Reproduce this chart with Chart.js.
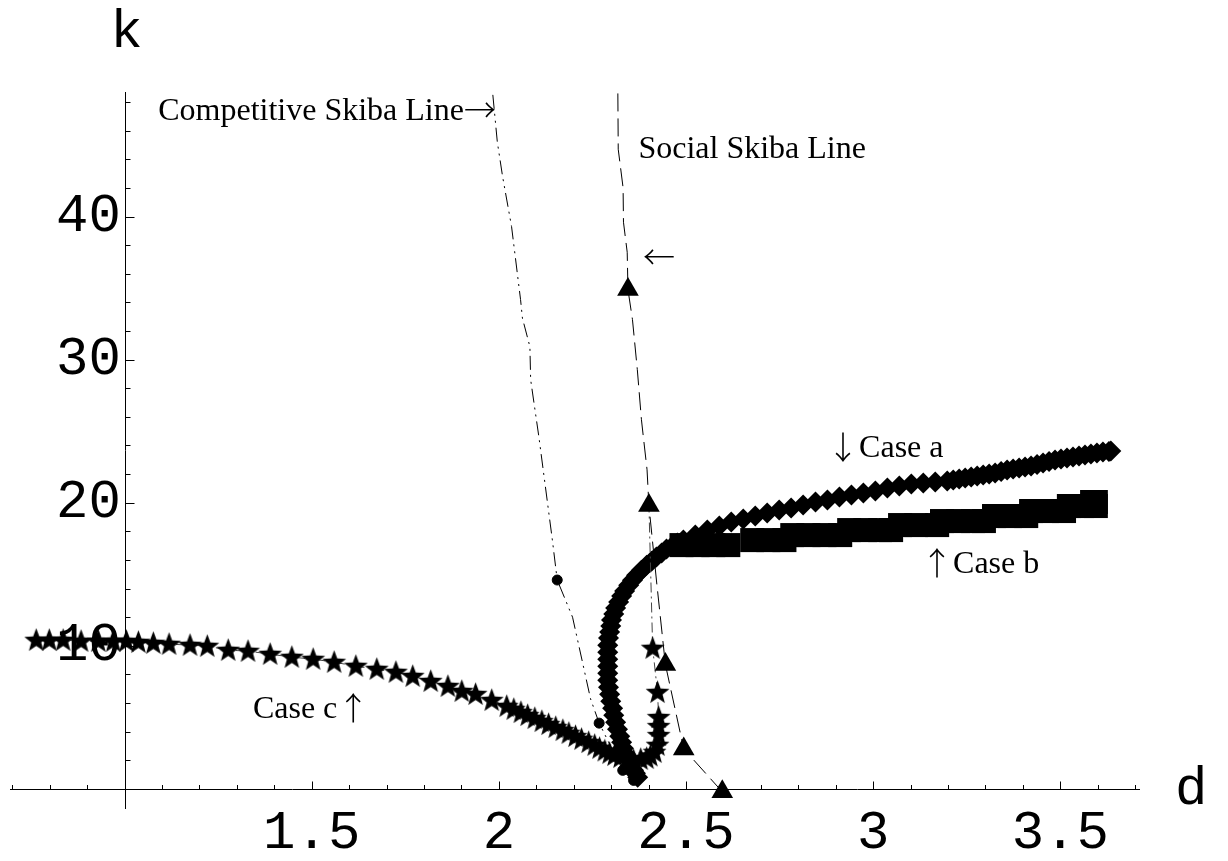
<!DOCTYPE html>
<html>
<head>
<meta charset="utf-8">
<style>
  html, body { margin: 0; padding: 0; background: #ffffff; }
  canvas { display: block; }
</style>
<script src="https://cdn.jsdelivr.net/npm/chart.js@4.4.1/dist/chart.umd.min.js"></script>
</head>
<body>
<canvas id="chart" width="1228" height="861"></canvas>
<script>
// Competitive Skiba line (dash-dot-dot) and its computed points
const compD = [1.984, 1.996, 2.010, 2.034, 2.058, 2.063, 2.083, 2.085, 2.107, 2.143, 2.156, 2.197, 2.245, 2.268, 2.331, 2.360];
const compK = [48.5, 45.2, 42.8, 39.3, 34.2, 32.9, 30.9, 28.6, 24.6, 17.4, 14.6, 12.0, 6.3, 4.6, 1.3, 0.6];
const compDotD = [2.156, 2.268, 2.331, 2.360];
const compDotK = [14.6, 4.6, 1.3, 0.6];

// Social Skiba line (dashed) and its triangle points
const socialD = [2.318, 2.319, 2.332, 2.333, 2.343, 2.345, 2.357, 2.370, 2.381, 2.396, 2.401, 2.421, 2.445, 2.494, 2.597];
const socialK = [48.6, 44.7, 42.0, 39.6, 37.5, 34.9, 32.8, 29.3, 25.8, 22.3, 19.8, 14.6, 8.7, 2.8, -0.2];
const socialTriD = [2.345, 2.401, 2.445, 2.494, 2.597];
const socialTriK = [34.9, 19.8, 8.7, 2.8, -0.2];

// Case a (diamonds): the bend near the bottom, then the rising branch
const caseAD = [2.371, 2.365, 2.360, 2.352, 2.347, 2.339, 2.333, 2.328, 2.323, 2.317,
                2.312, 2.307, 2.304, 2.299, 2.296, 2.293, 2.291, 2.291, 2.291, 2.291,
                2.291, 2.291, 2.293, 2.296, 2.299, 2.301, 2.307, 2.312, 2.320, 2.328,
                2.336, 2.347, 2.357, 2.368, 2.381, 2.395, 2.408, 2.421, 2.435, 2.448,
                2.464, 2.477,
                2.493, 2.525, 2.557, 2.589, 2.621, 2.653, 2.685, 2.717, 2.749, 2.781,
                2.813, 2.846, 2.878, 2.910, 2.942, 2.974, 3.006, 3.038, 3.070, 3.102,
                3.134, 3.166, 3.198, 3.230, 3.262, 3.294, 3.326, 3.358, 3.390, 3.422,
                3.454, 3.486, 3.518, 3.550, 3.582, 3.614, 3.635,
                3.214, 3.246, 3.278, 3.310, 3.342, 3.374, 3.406, 3.438, 3.470, 3.502,
                3.534, 3.566, 3.598, 3.630];
const caseAK = [0.82, 1.10, 1.31, 1.66, 2.01, 2.43, 2.85, 3.27, 3.69, 4.17,
                4.66, 5.15, 5.64, 6.13, 6.62, 7.11, 7.60, 8.09, 8.58, 9.07,
                9.56, 10.05, 10.54, 10.96, 11.38, 11.80, 12.22, 12.64, 13.06, 13.48,
                13.83, 14.24, 14.59, 14.94, 15.29, 15.64, 15.92, 16.20, 16.48, 16.76,
                16.97, 17.18,
                17.39, 17.74, 18.09, 18.37, 18.65, 18.86, 19.07, 19.28, 19.49, 19.63,
                19.84, 20.05, 20.19, 20.40, 20.54, 20.68, 20.82, 21.03, 21.17, 21.31,
                21.38, 21.45, 21.52, 21.66, 21.80, 21.94, 22.08, 22.29, 22.43, 22.57,
                22.78, 22.99, 23.13, 23.27, 23.41, 23.55, 23.62,
                21.59, 21.73, 21.87, 22.01, 22.18, 22.36, 22.50, 22.67, 22.88, 23.06,
                23.20, 23.34, 23.48, 23.58];

// Case b (squares)
const caseBD = [2.488, 2.531, 2.573, 2.613, 2.677, 2.720, 2.763, 2.784, 2.827, 2.870,
                2.912, 2.936, 2.979, 3.019, 3.048, 3.072, 3.115, 3.171, 3.184, 3.227,
                3.267, 3.296, 3.323, 3.366, 3.409, 3.422, 3.465, 3.510, 3.523, 3.558,
                3.595, 3.585, 3.595];
const caseBK = [17.04, 17.04, 17.04, 17.04, 17.39, 17.39, 17.39, 17.74, 17.74, 17.74,
                17.74, 18.09, 18.09, 18.09, 18.09, 18.44, 18.44, 18.44, 18.72, 18.72,
                18.72, 18.72, 19.07, 19.07, 19.07, 19.42, 19.42, 19.42, 19.77, 19.77,
                19.77, 20.05, 20.05];

// Case c (stars) and the thin line that continues from the last star
const caseCD = [0.764, 0.799, 0.836, 0.884, 0.930, 0.970, 1.005, 1.037, 1.077, 1.119,
                1.175, 1.221, 1.277, 1.330, 1.389, 1.447, 1.504, 1.560, 1.618, 1.674,
                1.725, 1.770, 1.818, 1.864, 1.901, 1.938, 1.981, 2.021, 2.040, 2.059,
                2.077, 2.096, 2.115, 2.133, 2.152, 2.171, 2.187, 2.205, 2.221, 2.240,
                2.256, 2.269, 2.283, 2.296, 2.309, 2.325, 2.344, 2.360, 2.379, 2.395,
                2.405, 2.416, 2.424, 2.427, 2.427, 2.427, 2.424, 2.411];
const caseCK = [10.40, 10.40, 10.40, 10.33, 10.33, 10.33, 10.33, 10.26, 10.19, 10.12,
                10.05, 9.98, 9.70, 9.63, 9.42, 9.21, 9.07, 8.86, 8.58, 8.37,
                8.16, 7.88, 7.53, 7.18, 6.83, 6.62, 6.20, 5.78, 5.57, 5.36,
                5.15, 4.94, 4.73, 4.52, 4.31, 4.10, 3.90, 3.68, 3.48, 3.26,
                3.06, 2.85, 2.67, 2.50, 2.36, 2.22, 2.11, 2.01, 2.08, 2.15,
                2.32, 2.57, 3.06, 3.75, 4.38, 5.01, 6.76, 9.84];
const caseCTailD = [2.401];
const caseCTailK = [19.8];

// Axis ticks and labels
const xTickValues = [1.5, 2, 2.5, 3, 3.5];
const yTickValues = [10, 20, 30, 40];
const xMinorStart = 0.7, xMinorEnd = 3.7, xMinorStep = 0.1;
const yMinorStart = 2, yMinorEnd = 48, yMinorStep = 2;
const axisNameX = 'd';
const axisNameY = 'k';

// Curve labels, anchored in data coordinates
const noteTexts = ['Competitive Skiba Line\u2192', 'Social Skiba Line', '\u2190', '\u2193Case a', '\u2191Case b', 'Case c\u2191'];
const noteD = [1.090, 2.373, 2.385, 2.877, 3.128, 1.343];
const noteK = [46.76, 44.1, 36.47, 23.22, 15.06, 4.94];

const pts = (ds, ks) => ds.map((d, i) => ({ x: d, y: ks[i] }));

function makeStar(size) {
  const c = document.createElement('canvas');
  c.width = size; c.height = size;
  const g = c.getContext('2d');
  const cx = size / 2, cy = size / 2 + 0.6, R = size / 2, r = R * 0.42;
  g.beginPath();
  for (let i = 0; i < 10; i++) {
    const a = -Math.PI / 2 + i * Math.PI / 5;
    const rr = (i % 2) ? r : R;
    g.lineTo(cx + rr * Math.cos(a), cy + rr * Math.sin(a));
  }
  g.closePath();
  g.fillStyle = '#000';
  g.fill();
  return c;
}
const starImg = makeStar(25);

const MONO = "'Liberation Mono', 'Courier New', monospace";
const SERIF = "'Liberation Serif', 'Times New Roman', serif";
const ARROWS = "'Noto Sans CJK JP', 'DejaVu Sans', sans-serif";
const arrowRe = /[\u2190-\u2193]/;

// draws a note, giving the arrow glyphs a font with long, thin arrows
function drawNote(ctx, text, x, y) {
  let cx = x;
  for (const ch of text) {
    const isArrow = arrowRe.test(ch);
    ctx.font = isArrow ? '300 32px ' + ARROWS : '32px ' + SERIF;
    ctx.fillText(ch, cx, y + (isArrow ? 2 : 0));
    cx += ctx.measureText(ch).width;
  }
}

const axesAndNotes = {
  id: 'axesAndNotes',
  beforeDatasetsDraw(chart) {
    const { ctx, chartArea: a, scales: { x, y } } = chart;
    const x0 = Math.round(x.getPixelForValue(1)) + 0.5;
    const y0 = Math.round(y.getPixelForValue(0)) + 0.5;
    ctx.save();
    ctx.strokeStyle = '#000';
    ctx.lineWidth = 1;
    ctx.beginPath();
    ctx.moveTo(a.left, y0); ctx.lineTo(a.right, y0);
    ctx.moveTo(x0, a.top); ctx.lineTo(x0, a.bottom);
    ctx.stroke();
    // ticks on the d axis, pointing up
    ctx.beginPath();
    for (let v = xMinorStart; v <= xMinorEnd + 1e-9; v += xMinorStep) {
      if (Math.abs(v - 1) < 1e-6) continue;
      const px = Math.round(x.getPixelForValue(v)) + 0.5;
      const major = Math.abs(v * 2 - Math.round(v * 2)) < 1e-6;
      ctx.moveTo(px, y0); ctx.lineTo(px, y0 - (major ? 8 : 4.5));
    }
    // ticks on the k axis, pointing right
    for (let v = yMinorStart; v <= yMinorEnd + 1e-9; v += yMinorStep) {
      const py = Math.round(y.getPixelForValue(v)) + 0.5;
      const major = Math.abs(v % 10) < 1e-6;
      ctx.moveTo(x0, py); ctx.lineTo(x0 + (major ? 9 : 5), py);
    }
    ctx.stroke();
    ctx.restore();
  },
  afterDatasetsDraw(chart) {
    const { ctx, chartArea: a, scales: { x, y } } = chart;
    ctx.save();
    ctx.fillStyle = '#000';
    ctx.textAlign = 'left';
    ctx.textBaseline = 'alphabetic';
    noteTexts.forEach((t, i) => {
      drawNote(ctx, t, x.getPixelForValue(noteD[i]), y.getPixelForValue(noteK[i]));
    });
    // axis names
    ctx.font = '54px ' + MONO;
    ctx.textAlign = 'center';
    ctx.fillText(axisNameY, x.getPixelForValue(1) + 2, 47);
    ctx.textAlign = 'left';
    ctx.fillText(axisNameX, a.right + 35, y.getPixelForValue(0) + 15);
    ctx.restore();
  }
};

const tickFont = { family: MONO, size: 54 };

new Chart(document.getElementById('chart'), {
  type: 'scatter',
  data: {
    datasets: [
      {
        label: 'Competitive points',
        data: pts(compDotD, compDotK),
        pointStyle: 'circle', pointRadius: 5, backgroundColor: '#000', borderColor: '#000',
        showLine: false, order: 1
      },
      {
        label: 'Social triangles',
        data: pts(socialTriD, socialTriK),
        pointStyle: 'triangle', pointRadius: 12.5, backgroundColor: '#000', borderColor: '#000', borderWidth: 0,
        showLine: false, order: 2
      },
      {
        label: 'Competitive Skiba Line',
        data: pts(compD, compK),
        showLine: true, borderColor: '#000', borderWidth: 1, borderDash: [14, 5, 2, 5, 2, 5],
        pointRadius: 0, fill: false, tension: 0, order: 3
      },
      {
        label: 'Social Skiba Line',
        data: pts(socialD, socialK),
        showLine: true, borderColor: '#000', borderWidth: 1, borderDash: [18, 7],
        pointRadius: 0, fill: false, tension: 0, order: 4
      },
      {
        label: 'Case c',
        data: pts(caseCD, caseCK),
        pointStyle: starImg, pointRadius: 12, showLine: false, order: 5
      },
      {
        label: 'Case c line',
        data: pts(caseCD.concat(caseCTailD), caseCK.concat(caseCTailK)),
        showLine: true, borderColor: '#444', borderWidth: 1, borderDash: [10, 4, 2, 4],
        pointRadius: 0, fill: false, tension: 0, order: 6
      },
      {
        label: 'Case a',
        data: pts(caseAD, caseAK),
        pointStyle: 'rectRot', pointRadius: 10.5, backgroundColor: '#000', borderColor: '#000', borderWidth: 0,
        showLine: false, order: 7
      },
      {
        label: 'Case b',
        data: pts(caseBD, caseBK),
        pointStyle: 'rect', pointRadius: 17, backgroundColor: '#000', borderColor: '#000', borderWidth: 0,
        showLine: false, order: 8
      }
    ]
  },
  options: {
    responsive: false,
    animation: false,
    events: [],
    clip: false,
    layout: { autoPadding: false, padding: { left: 10, right: 88, top: 92, bottom: 52 } },
    plugins: { legend: { display: false }, tooltip: { enabled: false } },
    scales: {
      x: {
        type: 'linear',
        min: 0.694, max: 3.713,
        position: { y: 0 },
        grid: { display: false, drawTicks: false },
        border: { display: false },
        afterBuildTicks: (s) => { s.ticks = xTickValues.map(v => ({ value: v })); },
        ticks: { font: tickFont, color: '#000', padding: 12, maxRotation: 0, autoSkip: false,
                 callback: (v) => String(v) }
      },
      y: {
        type: 'linear',
        min: -1.4, max: 48.7,
        // labels sit just left of the k axis drawn at d = 1
        position: { x: 0.990 },
        grid: { display: false, drawTicks: false },
        border: { display: false },
        afterBuildTicks: (s) => { s.ticks = yTickValues.map(v => ({ value: v })); },
        ticks: { font: tickFont, color: '#000', padding: 7, autoSkip: false,
                 callback: (v) => String(v) }
      }
    }
  },
  plugins: [axesAndNotes]
});
</script>
</body>
</html>
